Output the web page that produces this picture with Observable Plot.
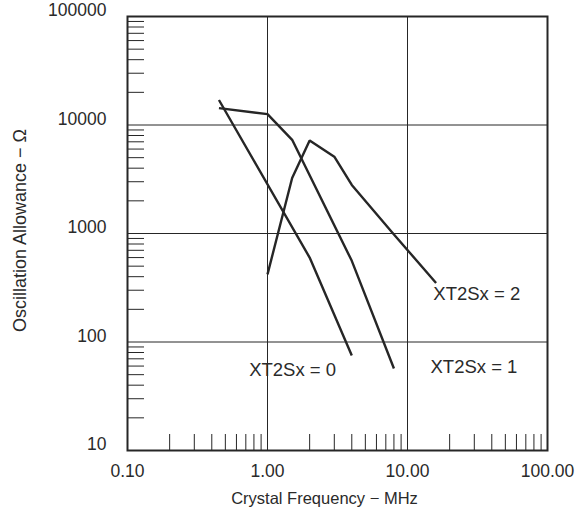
<!DOCTYPE html>
<html>
<head>
<meta charset="utf-8">
<script src="https://cdn.jsdelivr.net/npm/d3@7"></script>
<script src="https://cdn.jsdelivr.net/npm/@observablehq/plot@0.6"></script>
<style>
  html, body { margin: 0; padding: 0; background: #fff; }
  #chart { width: 578px; height: 514px; }
</style>
</head>
<body>
<div id="chart"></div>
<script>
// ---- data ----
const xTicks = [0.1, 1, 10, 100];
const yTicks = [10, 100, 1000, 10000, 100000];
const xGrid = [1, 10];
const yGrid = [100, 1000, 10000];
const minorMult = [2, 3, 4, 5, 6, 7, 8, 9];
const xDecades = [0.1, 1, 10];
const yDecades = [10, 100, 1000, 10000];

const xt0Freq = [0.45, 2.0, 4.0];
const xt0Allow = [17000, 600, 75];

const xt1Freq = [0.45, 1.0, 1.5, 4.0, 8.0];
const xt1Allow = [14300, 12600, 7300, 560, 57];

const xt2Freq = [1.0, 1.5, 2.0, 3.0, 4.0, 8.0, 16.0];
const xt2Allow = [420, 3250, 7200, 5100, 2800, 980, 350];

const seriesNames = ["XT2Sx = 0", "XT2Sx = 1", "XT2Sx = 2"];
const labelFreq = [0.74, 14.6, 15.3];
const labelAllow = [55, 59, 277];

const xTitle = "Crystal Frequency \u2212 MHz";
const yTitle = "Oscillation Allowance \u2212 \u03A9";

// ---- build tables ----
const toRows = (fs, as, s) => fs.map((f, i) => ({f, a: as[i], s}));
const rows = [
  ...toRows(xt0Freq, xt0Allow, seriesNames[0]),
  ...toRows(xt1Freq, xt1Allow, seriesNames[1]),
  ...toRows(xt2Freq, xt2Allow, seriesNames[2])
];
const labels = seriesNames.map((s, i) => ({s, f: labelFreq[i], a: labelAllow[i]}));
const xMinor = xDecades.flatMap(d => minorMult.map(m => d * m));
const yMinor = yDecades.flatMap(d => minorMult.map(m => d * m));

const ink = "#262626";
const width = 578, height = 514;
const marginLeft = 127, marginRight = 31, marginTop = 16, marginBottom = 64;
const plotW = width - marginLeft - marginRight;
const plotH = height - marginTop - marginBottom;

const chart = Plot.plot({
  width, height, marginLeft, marginRight, marginTop, marginBottom,
  style: {fontFamily: "'Liberation Sans', Arial, sans-serif", fontSize: "17.5px", color: "#2a2a2a", background: "#fff"},
  x: {type: "log", domain: [0.1, 100]},
  y: {type: "log", domain: [10, 100000]},
  marks: [
    Plot.ruleX(xGrid, {stroke: ink, strokeWidth: 1}),
    Plot.ruleY(yGrid, {stroke: ink, strokeWidth: 1}),
    Plot.tickX(xMinor, {x: d => d, stroke: ink, strokeWidth: 1, insetTop: plotH - 16}),
    Plot.tickY(yMinor, {y: d => d, stroke: ink, strokeWidth: 1, insetRight: plotW - 17}),
    Plot.axisX(xTicks, {tickSize: 0, tickPadding: 14, tickFormat: d3.format(".2f"), label: null}),
    Plot.axisY(yTicks, {tickSize: 0, tickPadding: 21, tickFormat: d3.format("d"), label: null, dy: -6}),
    Plot.line(rows, {x: "f", y: "a", z: "s", stroke: ink, strokeWidth: 2.4, strokeLinejoin: "miter", strokeLinecap: "butt"}),
    Plot.text(labels, {x: "f", y: "a", text: "s", textAnchor: "start", lineAnchor: "middle", fontSize: 18.5, fill: "#2a2a2a"}),
    Plot.text([xTitle], {frameAnchor: "bottom", textAnchor: "middle", dx: -13, dy: 48, lineAnchor: "middle", fontSize: 16.5, fill: "#2a2a2a"}),
    Plot.text([yTitle], {frameAnchor: "left", textAnchor: "middle", rotate: -90, dx: -107, dy: -3, lineAnchor: "middle", fontSize: 18, fill: "#2a2a2a"}),
    Plot.frame({stroke: ink, strokeWidth: 2})
  ]
});
document.getElementById("chart").appendChild(chart);
</script>
</body>
</html>
